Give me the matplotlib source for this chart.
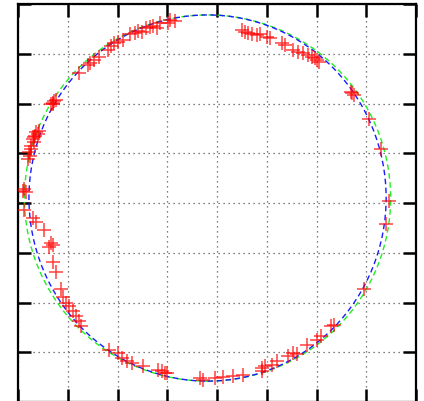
import matplotlib
matplotlib.use("Agg")
import matplotlib.pyplot as plt
from matplotlib.patches import Ellipse
from matplotlib.ticker import MultipleLocator

# measured points (x, y)
pts_x = [
    -139, -130, -128, -124, -119, -110, -107, -104, -100, -94, -87, -82, -79, -75, -71, -67, -64, -60, -57, -49, -47, -42,
    -167, -165, -164, -162, -165,
    -182, -179, -180, -184, -185, -184, -187, -187, -189, -188, -190, -183,
    -195, -194, -192, -194, -185, -182, -174, -167, -169, -165, -165, -162, -157, -155, -152, -149, -145, -142, -139, -137,
    -109, -100, -95, -90, -85, -74, -59, -55, -52, -50, -17, -14, -2, 6, 16, 26, 45, 45, 48, 55, 60, 71, 76, 80, 90, 100,
    105, 115, 118, 148,
    135, 136, 138, 153, 165, 173, 170,
    25, 28, 31, 35, 40, 43, 50, 53, 65, 68, 76, 81, 86, 91, 95, 98, 101, 103,
]
pts_y = [
    131, 139, 141, 144, 147, 154, 158, 161, 162, 164, 170, 171, 173, 172, 176, 177, 178, 176, 181, 181, 184, 183,
    99, 101, 103, 104, 100,
    71, 72, 69, 66, 64, 61, 57, 54, 51, 47, 44, 67,
    12, 14, 11, -7, -15, -19, -27, -40, -44, -42, -59, -69, -86, -94, -101, -104, -109, -114, -119, -124,
    -148, -151, -156, -159, -161, -164, -168, -169, -171, -171, -176, -178, -176, -175, -174, -173, -166, -169, -164, -163,
    -159, -154, -151, -152, -143, -138,
    -134, -124, -123, -86,
    112, 111, 109, 84, 54, 2, -21,
    174, 172, 171, 170, 169, 170, 167, 166, 161, 159, 154, 152, 151, 149, 147, 146, 144, 142,
]

# fitted circle and ellipse
circle_center = (-9.5, 5.0)
circle_radius = 184.0
ellipse_center = (-9.5, 5.0)
ellipse_width = 359.0
ellipse_height = 368.0

fig = plt.figure(figsize=(4.24, 4.02), dpi=100)
ax = fig.add_axes([18 / 424, -1 / 402, 398 / 424, 398 / 402])
ax.set_xlim(-200, 200)
ax.set_ylim(-200, 200)

ax.xaxis.set_major_locator(MultipleLocator(50))
ax.yaxis.set_major_locator(MultipleLocator(50))
ax.grid(True, linestyle=(0, (1, 3)), color="#555555", linewidth=0.9)
ax.tick_params(direction="in", length=9.5, width=1.8, top=True, right=True,
               labelbottom=False, labelleft=False, color="black")
for s in ax.spines.values():
    s.set_linewidth(1.6)
    s.set_color("black")

ax.add_patch(Ellipse(circle_center, 2 * circle_radius, 2 * circle_radius, fill=False,
                     edgecolor="#22ee22", linestyle=(0, (4, 2.5)), linewidth=1.0, zorder=3))
ax.add_patch(Ellipse(ellipse_center, ellipse_width, ellipse_height, fill=False,
                     edgecolor="#1a1aff", linestyle=(0, (4, 2.5)), linewidth=1.0, zorder=3))

ax.plot(pts_x, pts_y, linestyle="none", marker="+", markersize=10, markeredgewidth=1.1,
        color="red", alpha=0.75, zorder=4)

fig.savefig("out.png", dpi=100)
